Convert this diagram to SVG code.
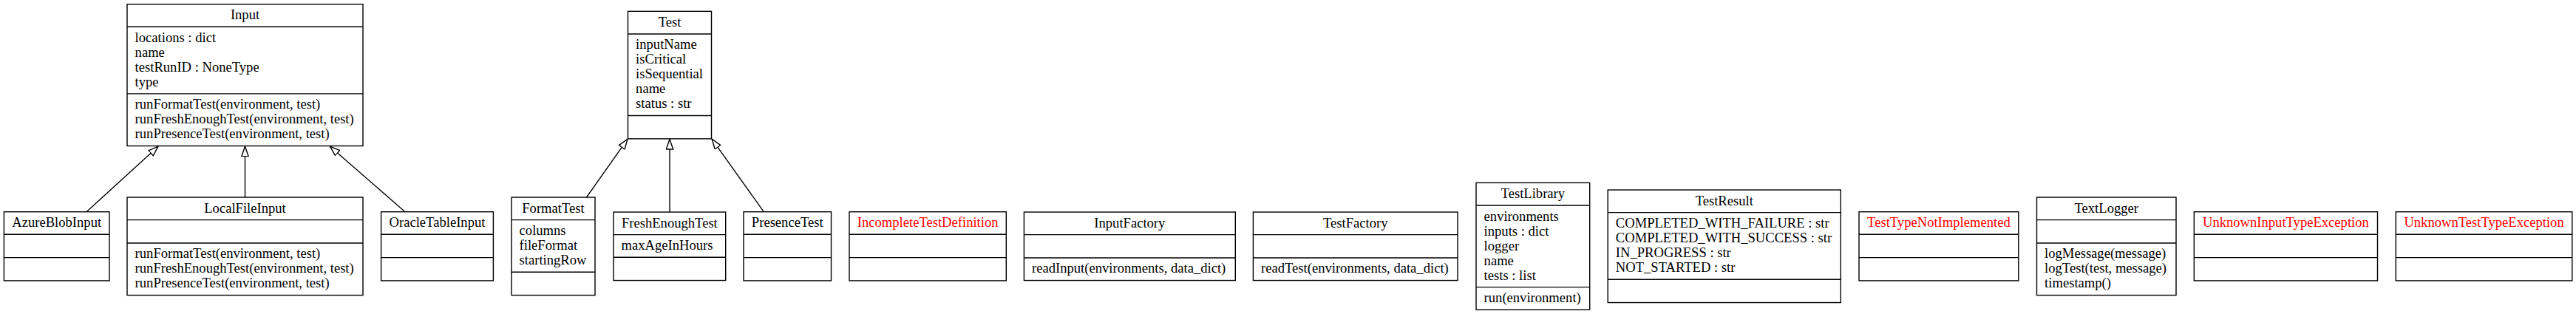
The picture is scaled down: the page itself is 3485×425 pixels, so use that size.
<svg xmlns="http://www.w3.org/2000/svg" width="3485" height="425" viewBox="0 0 3485 425">
<style>
.box{fill:#fff;stroke:#000;stroke-width:1.4}
.sep{stroke:#000;stroke-width:1.4;fill:none}
text{font-family:"Liberation Serif","Times New Roman",serif;font-size:18.6px;fill:#000}
.t{text-anchor:middle}
.ex{fill:#ff0000}
.edge{stroke:#000;stroke-width:1.4;fill:none;marker-end:url(#tri)}
</style>
<defs>
<marker id="tri" markerUnits="userSpaceOnUse" markerWidth="16" markerHeight="12" refX="14" refY="5.5" orient="auto" viewBox="0 0 16 12">
<path d="M0.5,0.8 L14,5.5 L0.5,10.2 Z" fill="#fff" stroke="#000" stroke-width="1.4"/>
</marker>
</defs>
<rect width="3485" height="425" fill="#fff"/>

<g id="connectors">
<line class="edge" x1="117" y1="286.7" x2="214" y2="198.2"/>
<line class="edge" x1="331.5" y1="267" x2="331.5" y2="198.2"/>
<line class="edge" x1="548" y1="286.7" x2="446.5" y2="198.2"/>
<line class="edge" x1="793.5" y1="267" x2="849" y2="188.3"/>
<line class="edge" x1="906" y1="287" x2="906" y2="188.5"/>
<line class="edge" x1="1033.3" y1="286.7" x2="963.2" y2="188.3"/>
</g>

<g id="Input">
<rect class="box" x="172" y="5.7" width="319" height="191.8"/>
<path class="sep" d="M172,36.3H491M172,126.9H491"/>
<text class="t" x="331.5" y="26.2">Input</text>
<text x="182.6" y="56.8">locations : dict</text>
<text x="182.6" y="76.8">name</text>
<text x="182.6" y="96.8">testRunID : NoneType</text>
<text x="182.6" y="116.8">type</text>
<text x="182.6" y="147.4">runFormatTest(environment, test)</text>
<text x="182.6" y="167.4">runFreshEnoughTest(environment, test)</text>
<text x="182.6" y="187.4">runPresenceTest(environment, test)</text>
</g>

<g id="Test">
<rect class="box" x="849.5" y="15.35" width="113" height="172.5"/>
<path class="sep" d="M849.5,45.95H962.5M849.5,156.55H962.5"/>
<text class="t" x="906" y="35.85">Test</text>
<text x="860.1" y="66.45">inputName</text>
<text x="860.1" y="86.45">isCritical</text>
<text x="860.1" y="106.45">isSequential</text>
<text x="860.1" y="126.45">name</text>
<text x="860.1" y="146.45">status : str</text>
</g>

<g id="AzureBlobInput">
<rect class="box" x="5.4" y="286.7" width="142.6" height="93.2"/>
<path class="sep" d="M5.4,317.3H148M5.4,348.6H148"/>
<text class="t" x="76.7" y="307.2">AzureBlobInput</text>
</g>

<g id="LocalFileInput">
<rect class="box" x="172" y="267.05" width="319" height="132.5"/>
<path class="sep" d="M172,297.65H491M172,328.95H491"/>
<text class="t" x="331.5" y="287.55">LocalFileInput</text>
<text x="182.6" y="349.45">runFormatTest(environment, test)</text>
<text x="182.6" y="369.45">runFreshEnoughTest(environment, test)</text>
<text x="182.6" y="389.45">runPresenceTest(environment, test)</text>
</g>

<g id="OracleTableInput">
<rect class="box" x="515.6" y="286.7" width="151.8" height="93.2"/>
<path class="sep" d="M515.6,317.3H667.4M515.6,348.6H667.4"/>
<text class="t" x="591.5" y="307.2">OracleTableInput</text>
</g>

<g id="FormatTest">
<rect class="box" x="692" y="267.05" width="113" height="132.5"/>
<path class="sep" d="M692,297.65H805M692,368.25H805"/>
<text class="t" x="748.5" y="287.55">FormatTest</text>
<text x="702.6" y="318.15">columns</text>
<text x="702.6" y="338.15">fileFormat</text>
<text x="702.6" y="358.15">startingRow</text>
</g>

<g id="FreshEnoughTest">
<rect class="box" x="830" y="287.05" width="151.7" height="92.5"/>
<path class="sep" d="M830,317.65H981.7M830,348.25H981.7"/>
<text class="t" x="905.85" y="307.55">FreshEnoughTest</text>
<text x="840.6" y="338.15">maxAgeInHours</text>
</g>

<g id="PresenceTest">
<rect class="box" x="1006" y="286.7" width="118.5" height="93.2"/>
<path class="sep" d="M1006,317.3H1124.5M1006,348.6H1124.5"/>
<text class="t" x="1065.25" y="307.2">PresenceTest</text>
</g>

<g id="IncompleteTestDefinition">
<rect class="box" x="1149" y="286.7" width="212.3" height="93.2"/>
<path class="sep" d="M1149,317.3H1361.3M1149,348.6H1361.3"/>
<text class="t ex" x="1255.15" y="307.2">IncompleteTestDefinition</text>
</g>

<g id="InputFactory">
<rect class="box" x="1385.4" y="287.05" width="285.9" height="92.5"/>
<path class="sep" d="M1385.4,317.65H1671.3M1385.4,348.95H1671.3"/>
<text class="t" x="1528.35" y="307.55">InputFactory</text>
<text x="1396" y="369.45">readInput(environments, data_dict)</text>
</g>

<g id="TestFactory">
<rect class="box" x="1695.4" y="287.05" width="276.6" height="92.5"/>
<path class="sep" d="M1695.4,317.65H1972M1695.4,348.95H1972"/>
<text class="t" x="1833.7" y="307.55">TestFactory</text>
<text x="1706" y="369.45">readTest(environments, data_dict)</text>
</g>

<g id="TestLibrary">
<rect class="box" x="1997" y="247.4" width="153.7" height="171.8"/>
<path class="sep" d="M1997,278H2150.7M1997,388.6H2150.7"/>
<text class="t" x="2073.85" y="267.9">TestLibrary</text>
<text x="2007.6" y="298.5">environments</text>
<text x="2007.6" y="318.5">inputs : dict</text>
<text x="2007.6" y="338.5">logger</text>
<text x="2007.6" y="358.5">name</text>
<text x="2007.6" y="378.5">tests : list</text>
<text x="2007.6" y="409.1">run(environment)</text>
</g>

<g id="TestResult">
<rect class="box" x="2175.2" y="257.05" width="315.1" height="152.5"/>
<path class="sep" d="M2175.2,287.65H2490.3M2175.2,378.25H2490.3"/>
<text class="t" x="2332.75" y="277.55">TestResult</text>
<text x="2185.8" y="308.15">COMPLETED_WITH_FAILURE : str</text>
<text x="2185.8" y="328.15">COMPLETED_WITH_SUCCESS : str</text>
<text x="2185.8" y="348.15">IN_PROGRESS : str</text>
<text x="2185.8" y="368.15">NOT_STARTED : str</text>
</g>

<g id="TestTypeNotImplemented">
<rect class="box" x="2515" y="286.7" width="215.8" height="93.2"/>
<path class="sep" d="M2515,317.3H2730.8M2515,348.6H2730.8"/>
<text class="t ex" x="2622.9" y="307.2">TestTypeNotImplemented</text>
</g>

<g id="TextLogger">
<rect class="box" x="2755.5" y="267.05" width="188.5" height="132.5"/>
<path class="sep" d="M2755.5,297.65H2944M2755.5,328.95H2944"/>
<text class="t" x="2849.75" y="287.55">TextLogger</text>
<text x="2766.1" y="349.45">logMessage(message)</text>
<text x="2766.1" y="369.45">logTest(test, message)</text>
<text x="2766.1" y="389.45">timestamp()</text>
</g>

<g id="UnknownInputTypeException">
<rect class="box" x="2968.3" y="286.7" width="248.2" height="93.2"/>
<path class="sep" d="M2968.3,317.3H3216.5M2968.3,348.6H3216.5"/>
<text class="t ex" x="3092.4" y="307.2">UnknownInputTypeException</text>
</g>

<g id="UnknownTestTypeException">
<rect class="box" x="3241.3" y="286.7" width="238.5" height="93.2"/>
<path class="sep" d="M3241.3,317.3H3479.8M3241.3,348.6H3479.8"/>
<text class="t ex" x="3360.55" y="307.2">UnknownTestTypeException</text>
</g>
</svg>
